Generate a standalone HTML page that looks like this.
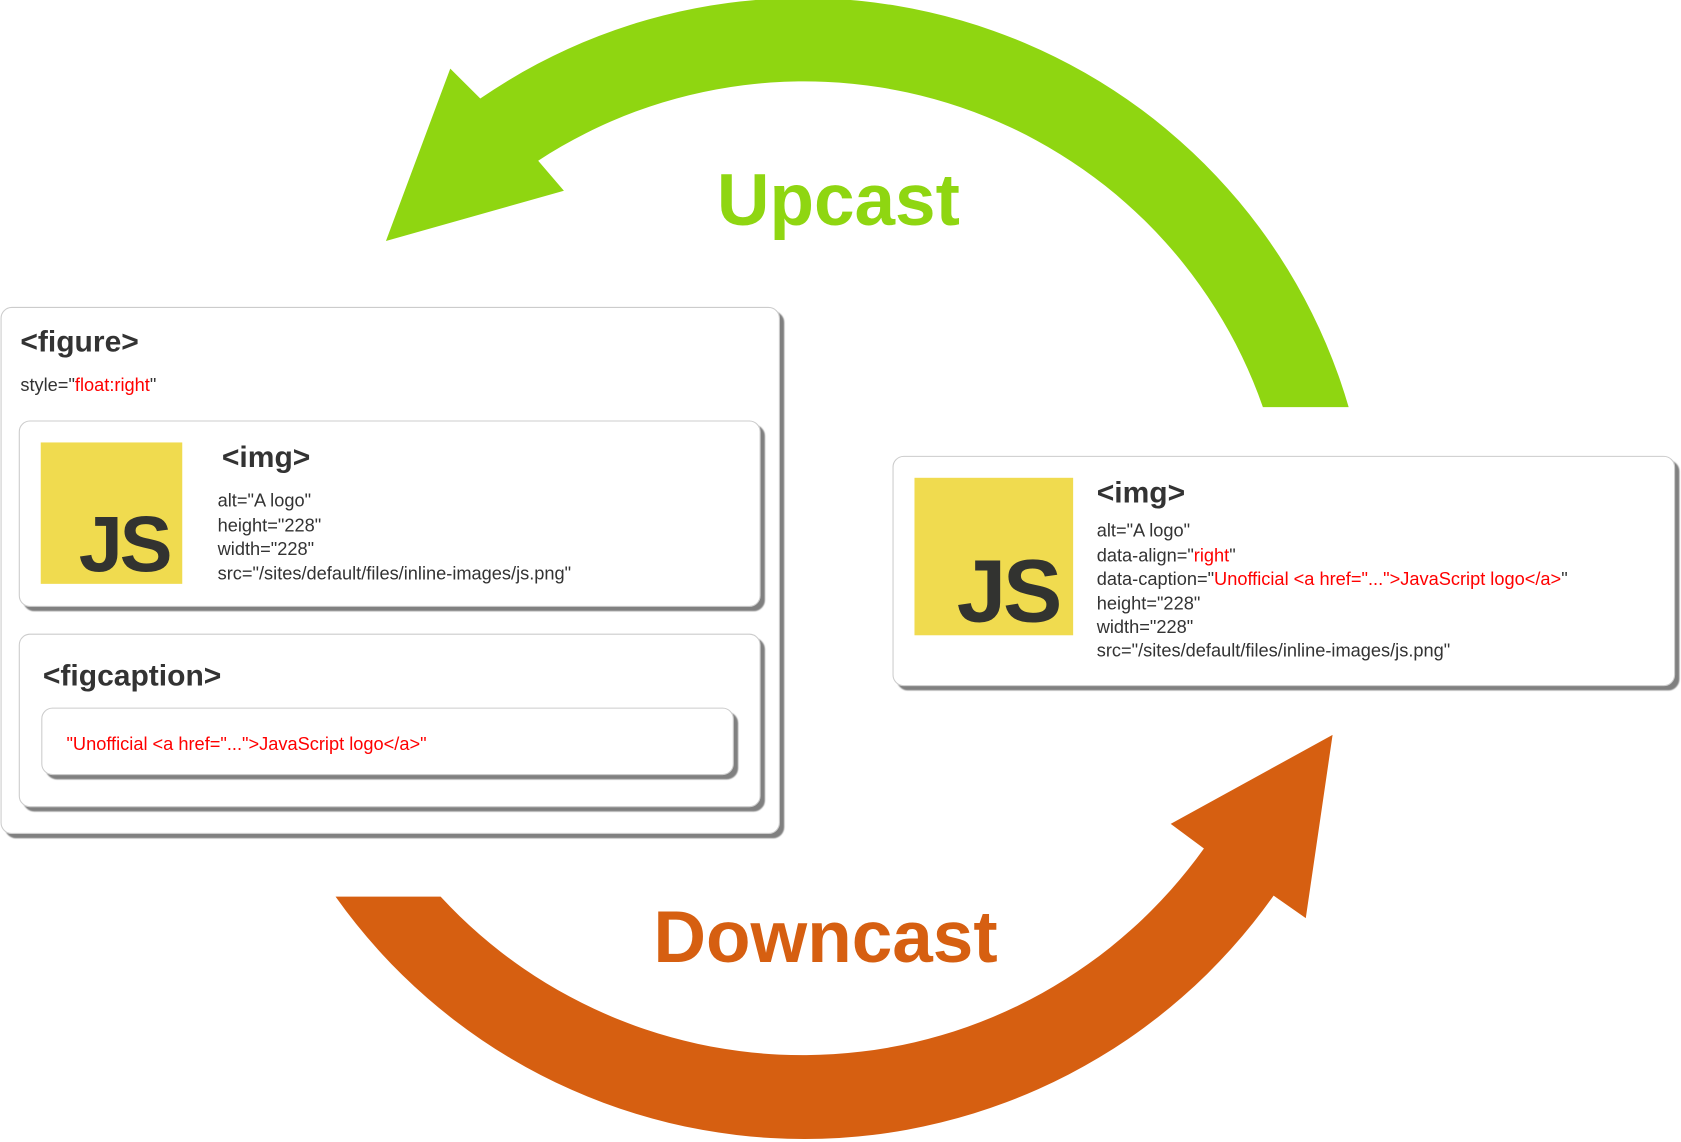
<!DOCTYPE html>
<html><head><meta charset="utf-8"><style>
html,body{margin:0;padding:0;background:#fff;width:1681px;height:1142px;overflow:hidden}
svg{display:block}
text{font-family:"Liberation Sans",sans-serif}
.t{font-weight:bold;font-size:28px;fill:#333}
.a{font-size:17px;fill:#333}
.r{fill:#f00}
</style></head><body>
<svg width="1681" height="1142" viewBox="0 0 1568 1066" preserveAspectRatio="none">
<defs>
<filter id="s" x="-5%" y="-5%" width="110%" height="115%"><feDropShadow dx="4" dy="4" stdDeviation="0.6" flood-color="#808080" flood-opacity="1"/></filter>
</defs>
<!-- green arrow -->
<path d="M1258,380 A530,530 0 0 0 448,92 L420,64 L360,225 L526,178 L502,150 A453,453 0 0 1 1178,380 Z" fill="#8fd611"/>
<text x="782" y="210" text-anchor="middle" font-size="68" font-weight="bold" fill="#8fd611">Upcast</text>
<!-- orange arrow -->
<path d="M313,837 A535.5,535.5 0 0 0 1188,836 L1218,857 L1243,686 L1092,769 L1123,792 A459.5,459.5 0 0 1 411,837 Z" fill="#d65f11"/>
<text x="770" y="898" text-anchor="middle" font-size="68" font-weight="bold" fill="#d65f11">Downcast</text>

<!-- figure box -->
<rect x="1" y="287" width="726" height="491" rx="10" fill="#fff" stroke="#ccc" stroke-width="1" filter="url(#s)"/>
<text x="19" y="328" class="t">&lt;figure&gt;</text>
<text x="19" y="365" class="a">style="<tspan class="r">float:right</tspan>"</text>

<rect x="18" y="393" width="691" height="173" rx="10" fill="#fff" stroke="#ccc" filter="url(#s)"/>
<rect x="38" y="413" width="132" height="132" fill="#f0db4f"/>
<text x="158" y="533" text-anchor="end" font-size="74" font-weight="bold" fill="#323330" letter-spacing="-3">JS</text>
<text x="207" y="436" class="t">&lt;img&gt;</text>
<text x="203" y="473" class="a">alt="A logo"</text>
<text x="203" y="496" class="a">height="228"</text>
<text x="203" y="518" class="a">width="228"</text>
<text x="203" y="541" class="a">src="/sites/default/files/inline-images/js.png"</text>

<rect x="18" y="592" width="691" height="161" rx="10" fill="#fff" stroke="#ccc" filter="url(#s)"/>
<text x="40" y="640" class="t">&lt;figcaption&gt;</text>
<rect x="39" y="661" width="645" height="62" rx="10" fill="#fff" stroke="#ccc" filter="url(#s)"/>
<text x="62" y="700" class="a r">"Unofficial &lt;a href="..."&gt;JavaScript logo&lt;/a&gt;"</text>

<!-- right img box -->
<rect x="833" y="426" width="729" height="214" rx="10" fill="#fff" stroke="#ccc" filter="url(#s)"/>
<rect x="853" y="446" width="148" height="147" fill="#f0db4f"/>
<text x="988" y="580" text-anchor="end" font-size="83" font-weight="bold" fill="#323330" letter-spacing="-3">JS</text>
<text x="1023" y="469" class="t">&lt;img&gt;</text>
<text x="1023" y="501" class="a">alt="A logo"</text>
<text x="1023" y="524" class="a">data-align="<tspan class="r">right</tspan>"</text>
<text x="1023" y="546" class="a">data-caption="<tspan class="r">Unofficial &lt;a href="..."&gt;JavaScript logo&lt;/a&gt;</tspan>"</text>
<text x="1023" y="569" class="a">height="228"</text>
<text x="1023" y="591" class="a">width="228"</text>
<text x="1023" y="613" class="a">src="/sites/default/files/inline-images/js.png"</text>
</svg>
</body></html>
